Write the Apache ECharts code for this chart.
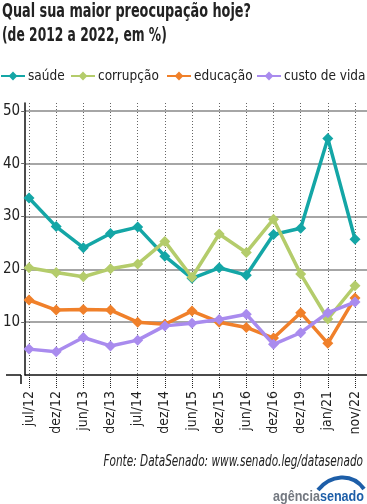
<!DOCTYPE html>
<html><head><meta charset="utf-8">
<script src="https://cdn.jsdelivr.net/npm/echarts@6/dist/echarts.min.js"></script>
<style>html,body{margin:0;padding:0;background:#fff}#c{width:367px;height:504px}</style>
</head><body><div id="c"></div>
<script>
var categories = ['jul/12','dez/12','jun/13','dez/13','jul/14','dez/14','jun/15','dez/15','jun/16','dez/16','dez/19','jan/21','nov/22'];
var saude      = [33.5, 28.1, 24.1, 26.8, 28.0, 22.5, 18.3, 20.3, 18.9, 26.6, 27.8, 44.8, 25.7];
var corrupcao  = [20.3, 19.4, 18.6, 20.1, 21.0, 25.3, 18.5, 26.7, 23.2, 29.5, 19.1, 10.6, 16.9];
var educacao   = [14.2, 12.3, 12.4, 12.3, 10.0, 9.6, 12.1, 10.0, 9.0, 7.0, 11.8, 6.0, 14.6];
var custoVida  = [4.9, 4.4, 7.1, 5.5, 6.6, 9.3, 9.8, 10.5, 11.5, 5.8, 8.0, 11.8, 13.8];
var seriesNames = ['saúde','corrupção','educação','custo de vida'];
var yTicks = [0, 10, 20, 30, 40, 50];

var FONT = '"DejaVu Sans Condensed","Liberation Sans Narrow",sans-serif';
var colors = ['#14a6a6', '#b4cc6b', '#f0802a', '#a98bee'];
var chart = echarts.init(document.getElementById('c'), null, {renderer:'canvas'});
function mk(name, data, i){
  return {name:name, type:'line', data:data, xAxisIndex:1, yAxisIndex:1,
    symbol:'diamond', symbolSize:11, lineStyle:{width:3.5, color:colors[i]},
    itemStyle:{color:colors[i]}, z:3+i};
}
var legendX = [0, 70, 166, 256];
var legends = seriesNames.map(function(n, i){
  return {left:legendX[i], top:69, padding:0, itemWidth:24, itemHeight:11, itemGap:0,
    data:[n], textStyle:{fontFamily:FONT, fontSize:13.5, color:'#222', padding:[0,0,0,-2]}};
});
var YMAX = 51.5;
chart.setOption({
  animation:false,
  textStyle:{fontFamily:FONT},
  legend:legends,
  grid:[
    {left:21, right:0, top:103, bottom:129, containLabel:false},
    {left:29, right:12, top:103, bottom:129, containLabel:false}
  ],
  xAxis:[
    {gridIndex:0, type:'value', min:0, max:1, axisLabel:{show:false}, axisTick:{show:false}, splitLine:{show:false},
     axisLine:{show:true, lineStyle:{color:'#111', width:1.5}}},
    {gridIndex:1, type:'category', data:categories, boundaryGap:false,
     axisLine:{show:false},
     axisTick:{show:true, length:13, lineStyle:{color:'#222', width:1, type:[1,1]}},
     splitLine:{show:true, lineStyle:{color:'#666', width:1, type:[1,2]}},
     axisLabel:{rotate:90, fontFamily:FONT, fontSize:14, color:'#222', margin:16, interval:0}}
  ],
  yAxis:[
    {gridIndex:0, type:'value', min:0, max:YMAX, interval:10,
     axisLine:{show:true, lineStyle:{color:'#111', width:1.5}},
     axisTick:{show:true, length:4, lineStyle:{color:'#666'}},
     axisLabel:{showMinLabel:false, showMaxLabel:false, fontFamily:FONT, fontSize:15, color:'#222', margin:5,
       formatter:function(v){return yTicks.indexOf(v)>0 ? String(v) : '';}},
     splitLine:{show:true, showMinLine:false, showMaxLine:false, lineStyle:{color:'#888', width:1.5}}},
    {gridIndex:1, type:'value', min:0, max:YMAX, show:false, splitLine:{show:false}}
  ],
  series:[mk(seriesNames[0], saude, 0), mk(seriesNames[1], corrupcao, 1), mk(seriesNames[2], educacao, 2), mk(seriesNames[3], custoVida, 3)],
  graphic:[
    {type:'text', x:2, y:3, scaleX:0.75, style:{text:'Qual sua maior preocupação hoje?', font:'bold 19px '+FONT, fill:'#222', align:'left', verticalAlign:'top'}},
    {type:'text', x:2, y:27, scaleX:0.72, style:{text:'(de 2012 a 2022, em %)', font:'bold 19px '+FONT, fill:'#222', align:'left', verticalAlign:'top'}},
    {type:'line', shape:{x1:6, y1:375, x2:21, y2:375}, style:{stroke:'#111', lineWidth:1.5}},
    {type:'line', shape:{x1:21, y1:375, x2:21, y2:384}, style:{stroke:'#111', lineWidth:1.5}},
    {type:'text', x:363, y:455, scaleX:0.78, style:{text:'Fonte: DataSenado: www.senado.leg/datasenado', font:'italic 15px '+FONT, fill:'#222', align:'right', verticalAlign:'top'}},
    {type:'text', x:364, y:489, scaleX:0.84, style:{
      text:'{a|agência}{b|senado}', align:'right', verticalAlign:'top',
      rich:{a:{fontFamily:'"Liberation Sans","DejaVu Sans",sans-serif', fontWeight:'bold', fontSize:15, fill:'#737880'},
            b:{fontFamily:'"Liberation Sans","DejaVu Sans",sans-serif', fontWeight:'bold', fontSize:15, fill:'#1d5ea8'}}}},
    {type:'bezierCurve', shape:{x1:318, y1:490, x2:364, y2:489, cpx1:330, cpy1:475, cpx2:352, cpy2:472},
     style:{stroke:'#1d5ea8', lineWidth:4, fill:null}}
  ]
});
</script></body></html>
